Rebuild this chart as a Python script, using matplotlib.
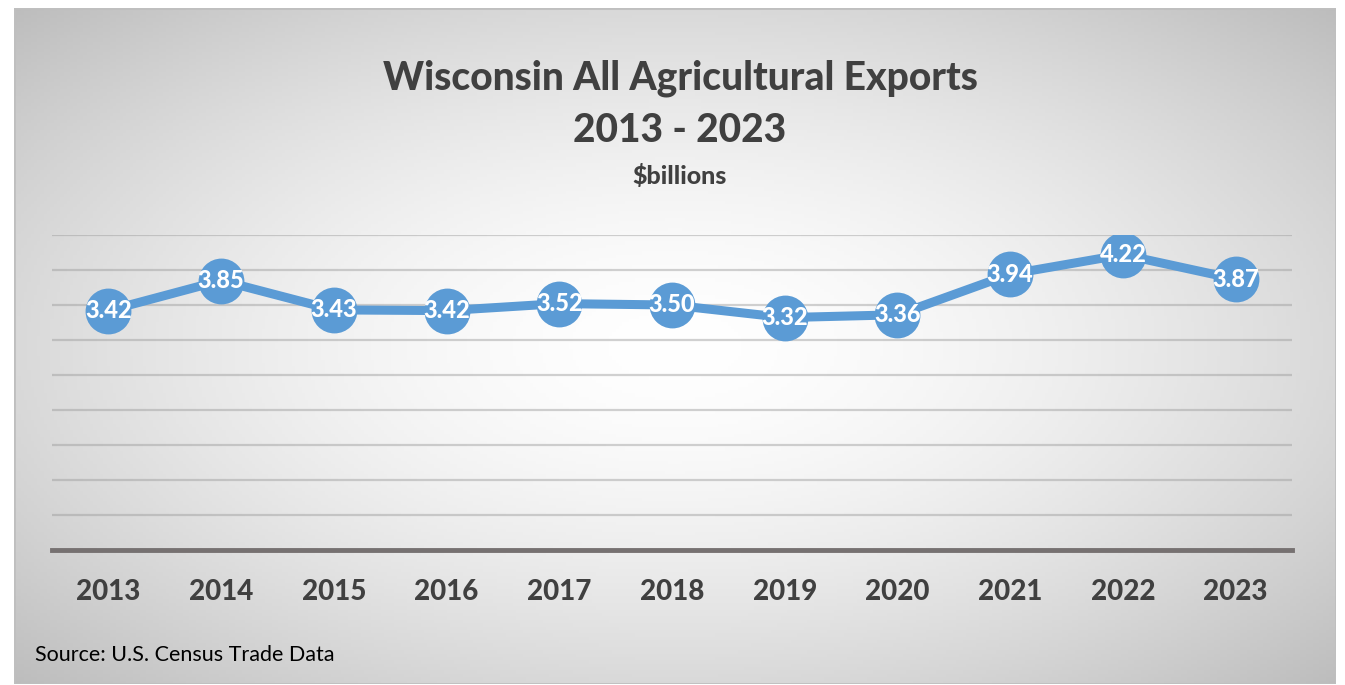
import numpy as np
import matplotlib.pyplot as plt
from matplotlib.patches import Rectangle

years = ["2013", "2014", "2015", "2016", "2017", "2018", "2019", "2020", "2021", "2022", "2023"]
exports = [3.42, 3.85, 3.43, 3.42, 3.52, 3.50, 3.32, 3.36, 3.94, 4.22, 3.87]

plt.rcParams['font.family'] = ['Lato', 'DejaVu Sans']
heavy = "black"

W, H = 1345, 685
fig = plt.figure(figsize=(W / 100, H / 100), dpi=100)
fig.patch.set_facecolor("white")

# chart frame with radial gradient
fx0, fy0, fx1, fy1 = 14, 8, 1336, 684
bg = fig.add_axes([fx0 / W, 1 - fy1 / H, (fx1 - fx0) / W, (fy1 - fy0) / H])
gx, gy = np.meshgrid(np.linspace(-1, 1, 400), np.linspace(-1, 1, 200))
r = np.sqrt(gx ** 2 + gy ** 2) / np.sqrt(2)
shade = 1.0 - 0.26 * r ** 1.6
bg.imshow(np.dstack([shade] * 3), extent=[0, 1, 0, 1], aspect="auto")
bg.add_patch(Rectangle((0, 0), 1, 1, fill=False, edgecolor="#bfbfbf", lw=2, transform=bg.transAxes))
bg.set_axis_off()

ax = fig.add_axes([52 / W, 1 - 550 / H, (1292 - 52) / W, (550 - 235) / H])
ax.set_facecolor("none")
x = np.arange(len(years))
ax.set_xlim(-0.5, len(years) - 0.5)
ax.set_ylim(0, 4.5)
for yv in np.arange(0.5, 4.51, 0.5):
    ax.axhline(yv, color="#9a9a9a", lw=1.6, alpha=0.45, zorder=1)
ax.axhline(0, color="#767171", lw=3.5, zorder=2, clip_on=False)

ax.plot(x, exports, color="#5b9bd5", lw=6.5, marker="o", markersize=33,
        markerfacecolor="#5b9bd5", markeredgewidth=0, zorder=3, solid_capstyle="round")
for xi, v in zip(x, exports):
    ax.text(xi, v, f"{v:.2f}", color="white", fontsize=17, fontweight=heavy,
            ha="center", va="center", zorder=4)

ax.set_xticks(x)
ax.set_xticklabels(years, fontsize=20, fontweight=heavy, color="#404040")
ax.tick_params(axis="x", length=0, pad=21)
ax.set_yticks([])
for s in ax.spines.values():
    s.set_visible(False)

fig.text(680 / W, 1 - 78 / H, "Wisconsin All Agricultural Exports", ha="center", va="center",
         fontsize=28, fontweight=heavy, color="#404040")
fig.text(680 / W, 1 - 130 / H, "2013 - 2023", ha="center", va="center",
         fontsize=28, fontweight=heavy, color="#404040")
fig.text(680 / W, 1 - 176 / H, "$billions", ha="center", va="center",
         fontsize=18, fontweight=heavy, color="#404040")
fig.text(35 / W, 1 - 655 / H, "Source: U.S. Census Trade Data", ha="left", va="center",
         fontsize=15.5, color="black")

fig.savefig("out.png", dpi=100)
